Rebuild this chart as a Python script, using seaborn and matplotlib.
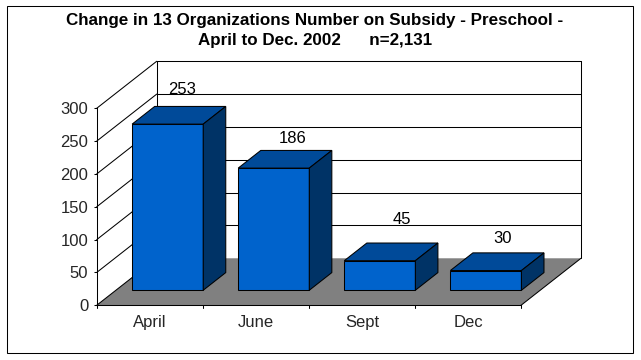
import matplotlib
matplotlib.use("Agg")
import matplotlib.pyplot as plt
from matplotlib.patches import Polygon, Rectangle
import seaborn as sns

# Chart data
months = ["April", "June", "Sept", "Dec"]
counts = [253, 186, 45, 30]
y_ticks = [0, 50, 100, 150, 200, 250, 300]
title = "Change in 13 Organizations Number on Subsidy - Preschool -\nApril to Dec. 2002      n=2,131"

# Pixel nudges for the value labels, relative to the back top edge of each bar
label_dx = [-8, -4, 0, -6]
label_dy = [17, 12, 24, 14]

# Fake 3D: how far the back wall sits from the front plane, in data units
DEPTH_X = 0.5656
DEPTH_Y = 71.6
BAR_FRONT = 0.32
BAR_BACK = 0.696
BAR_WIDTH = 0.67
BAR_SHIFT = -0.012

FRONT = "#0063CC"
TOP = "#004A99"
SIDE = "#003366"
FLOOR = "#808080"
LW = 0.75

W, H = 641, 360

sns.set_theme(style="white")
plt.rcParams["font.family"] = ["Liberation Sans", "DejaVu Sans"]

fig = plt.figure(figsize=(W / 100, H / 100), dpi=100, facecolor="white")
ax = fig.add_axes([96.7 / W, (H - 305.3) / H, 424.3 / W, 197 / H])
ax.patch.set_visible(False)


def project(x, y, depth):
    return (x + depth * DEPTH_X, y + depth * DEPTH_Y)


# Bars first so seaborn sets up the category axis, faces get moved back below
sns.barplot(x=months, y=counts, color=FRONT, saturation=1, width=BAR_WIDTH,
            edgecolor="black", linewidth=LW, ax=ax, zorder=5)
ax.set_xlim(-0.5, len(months) - 0.5)
ax.set_ylim(y_ticks[0], y_ticks[-1])

x0, x1 = ax.get_xlim()
y_top = y_ticks[-1]

# Floor and walls
ax.add_patch(Polygon([project(x0, 0, 0), project(x1, 0, 0), project(x1, 0, 1), project(x0, 0, 1)],
                     closed=True, facecolor=FLOOR, edgecolor="none", clip_on=False, zorder=1))
for v in y_ticks:
    if v > 0:
        ax.plot(*zip(project(x0, v, 1), project(x1, v, 1)), color="black", lw=LW, clip_on=False, zorder=2)
    ax.plot(*zip(project(x0, v, 0), project(x0, v, 1)), color="black", lw=LW, clip_on=False, zorder=2)
ax.plot(*zip(project(x0, 0, 1), project(x0, y_top, 1)), color="black", lw=LW, clip_on=False, zorder=2)
ax.plot(*zip(project(x1, 0, 1), project(x1, y_top, 1)), color="black", lw=LW, clip_on=False, zorder=2)
ax.plot(*zip(project(x1, 0, 0), project(x1, 0, 1)), color="black", lw=LW, clip_on=False, zorder=2)

# Push the front faces into the floor and add top and side faces
for i, bar in enumerate(ax.patches[:len(months)]):
    left = bar.get_x() + BAR_SHIFT
    right = left + bar.get_width()
    val = counts[i]
    bar.set_x(left + BAR_FRONT * DEPTH_X)
    bar.set_y(BAR_FRONT * DEPTH_Y)
    bar.set_clip_on(False)
    bar.set_zorder(5 + i)
    ax.add_patch(Polygon([project(left, val, BAR_FRONT), project(right, val, BAR_FRONT),
                          project(right, val, BAR_BACK), project(left, val, BAR_BACK)],
                         closed=True, facecolor=TOP, edgecolor="black", lw=LW, clip_on=False, zorder=5 + i))
    ax.add_patch(Polygon([project(right, 0, BAR_FRONT), project(right, val, BAR_FRONT),
                          project(right, val, BAR_BACK), project(right, 0, BAR_BACK)],
                         closed=True, facecolor=SIDE, edgecolor="black", lw=LW, clip_on=False, zorder=5 + i))
    ax.annotate(str(val), project((left + right) / 2, val, BAR_BACK),
                xytext=(label_dx[i], label_dy[i]), textcoords="offset pixels",
                ha="center", va="center", fontsize=12, color="black", zorder=20,
                annotation_clip=False)

# Axes
sns.despine(ax=ax, top=True, right=True)
for side in ["left", "bottom"]:
    ax.spines[side].set_color("black")
    ax.spines[side].set_linewidth(LW)
    ax.spines[side].set_zorder(4)
ax.set_yticks(y_ticks)
ax.set_xticks(range(len(months)))
ax.set_xticklabels(months)
ax.tick_params(axis="y", length=2, width=LW, color="black", labelsize=12, pad=4, left=True)
ax.tick_params(axis="x", length=0, labelsize=12, pad=7, bottom=False)
ax.grid(False)
# x tick marks sit between the categories
for i in range(len(months) + 1):
    ax.plot([x0 + i, x0 + i], [0, -4.5], color="black", lw=LW, clip_on=False, zorder=4)
ax.set_ylim(y_ticks[0], y_ticks[-1])

fig.text(315 / W, 1 - 30.5 / H, title, ha="center", va="center", fontsize=12.25, fontweight="bold",
         color="black", linespacing=1.4)

# Outer chart border
fig.add_artist(Rectangle((6.5 / W, 1 - 353 / H), 626.3 / W, 347 / H, transform=fig.transFigure,
                         fill=False, edgecolor="black", lw=LW))

fig.savefig("out.png", dpi=100)
